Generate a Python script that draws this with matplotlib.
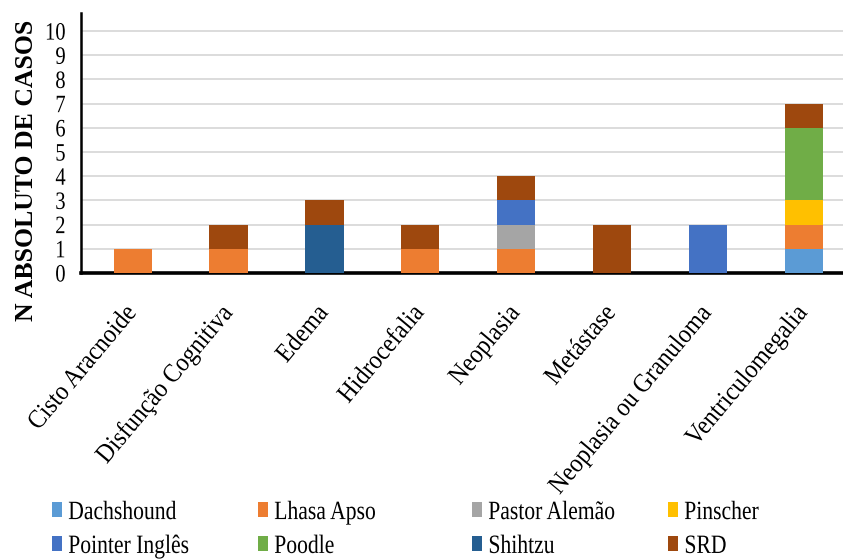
import matplotlib
matplotlib.use('Agg')
import matplotlib.pyplot as plt
from matplotlib import patheffects
from matplotlib.transforms import Affine2D

categorias = ['Cisto Aracnoide', 'Disfunção Cognitiva', 'Edema', 'Hidrocefalia',
              'Neoplasia', 'Metástase', 'Neoplasia ou Granuloma', 'Ventriculomegalia']
racas = ['Dachshound', 'Lhasa Apso', 'Pastor Alemão', 'Pinscher',
         'Pointer Inglês', 'Poodle', 'Shihtzu', 'SRD']

dachshound = [0, 0, 0, 0, 0, 0, 0, 1]
lhasa_apso = [1, 1, 0, 1, 1, 0, 0, 1]
pastor_alemao = [0, 0, 0, 0, 1, 0, 0, 0]
pinscher = [0, 0, 0, 0, 0, 0, 0, 1]
pointer_ingles = [0, 0, 0, 0, 1, 0, 2, 0]
poodle = [0, 0, 0, 0, 0, 0, 0, 3]
shihtzu = [0, 0, 2, 0, 0, 0, 0, 0]
srd = [0, 1, 1, 1, 1, 2, 0, 1]

series = [dachshound, lhasa_apso, pastor_alemao, pinscher,
          pointer_ingles, poodle, shihtzu, srd]
cores = ['#5B9BD5', '#ED7D31', '#A5A5A5', '#FFC000',
         '#4472C4', '#70AD47', '#255E91', '#9E480E']


class Squeeze(patheffects.AbstractPathEffect):
    """Narrow the glyphs along the baseline (condensed look)."""

    def __init__(self, sx=0.82, anchor='left'):
        super().__init__()
        self.sx = sx
        self.anchor = anchor

    def draw_path(self, renderer, gc, tpath, affine, rgbFace=None):
        ext = tpath.get_extents()
        x0 = {'left': ext.x0, 'center': (ext.x0 + ext.x1) / 2, 'right': ext.x1}[self.anchor]
        sq = Affine2D().translate(-x0, 0).scale(self.sx, 1).translate(x0, 0)
        renderer.draw_path(gc, tpath, sq + affine, rgbFace)


plt.rcParams['font.family'] = 'serif'
plt.rcParams['font.serif'] = ['Liberation Serif', 'DejaVu Serif']

fig = plt.figure(figsize=(8.43, 5.6), dpi=100)
ax = fig.add_axes([0.0961, 0.5125, 0.9039, 0.4648])

x = range(len(categorias))
base = [0] * len(categorias)
barras = []
for nome, vals, cor in zip(racas, series, cores):
    b = ax.bar(x, vals, width=0.4, bottom=base, color=cor, label=nome, zorder=3)
    barras.append(b)
    base = [bb + v for bb, v in zip(base, vals)]

ax.set_xlim(-0.54, 7.41)
ax.set_ylim(0, 10.76)
ax.set_yticks(range(11))
ax.yaxis.grid(True, color='#D9D9D9', linewidth=1.3, zorder=0)
ax.set_axisbelow(True)

for s in ['top', 'right']:
    ax.spines[s].set_visible(False)
ax.spines['left'].set_linewidth(1.8)
ax.spines['bottom'].set_linewidth(2.6)

ax.tick_params(axis='y', length=0, pad=11, labelsize=18)
ax.tick_params(axis='x', length=0, pad=26)
ax.set_xticks(list(x))
ax.set_xticklabels(categorias, rotation=50, ha='right', va='center',
                   rotation_mode='anchor', fontsize=19)

for lbl in ax.get_xticklabels():
    lbl.set_path_effects([Squeeze(0.9, 'right')])
for lbl in ax.get_yticklabels():
    lbl.set_path_effects([Squeeze(0.82, 'right')])

ax.set_ylabel('N ABSOLUTO DE CASOS', fontsize=18.5, fontweight='bold')
ax.yaxis.set_label_coords(-0.056, 0.396)

# legend: four columns of two entries each
col_x = [52, 258, 472, 668]
for i, cx in enumerate(col_x):
    leg = fig.legend(handles=[barras[i], barras[i + 4]], loc='center left',
                     bbox_to_anchor=(cx / 843, 30 / 560), frameon=False,
                     fontsize=19, handlelength=0.38, handleheight=0.5,
                     handletextpad=0.23, labelspacing=0.45, borderpad=0,
                     borderaxespad=0)
    for t in leg.get_texts():
        t.set_path_effects([Squeeze(0.82, 'left')])

fig.savefig('out.png', dpi=100)
